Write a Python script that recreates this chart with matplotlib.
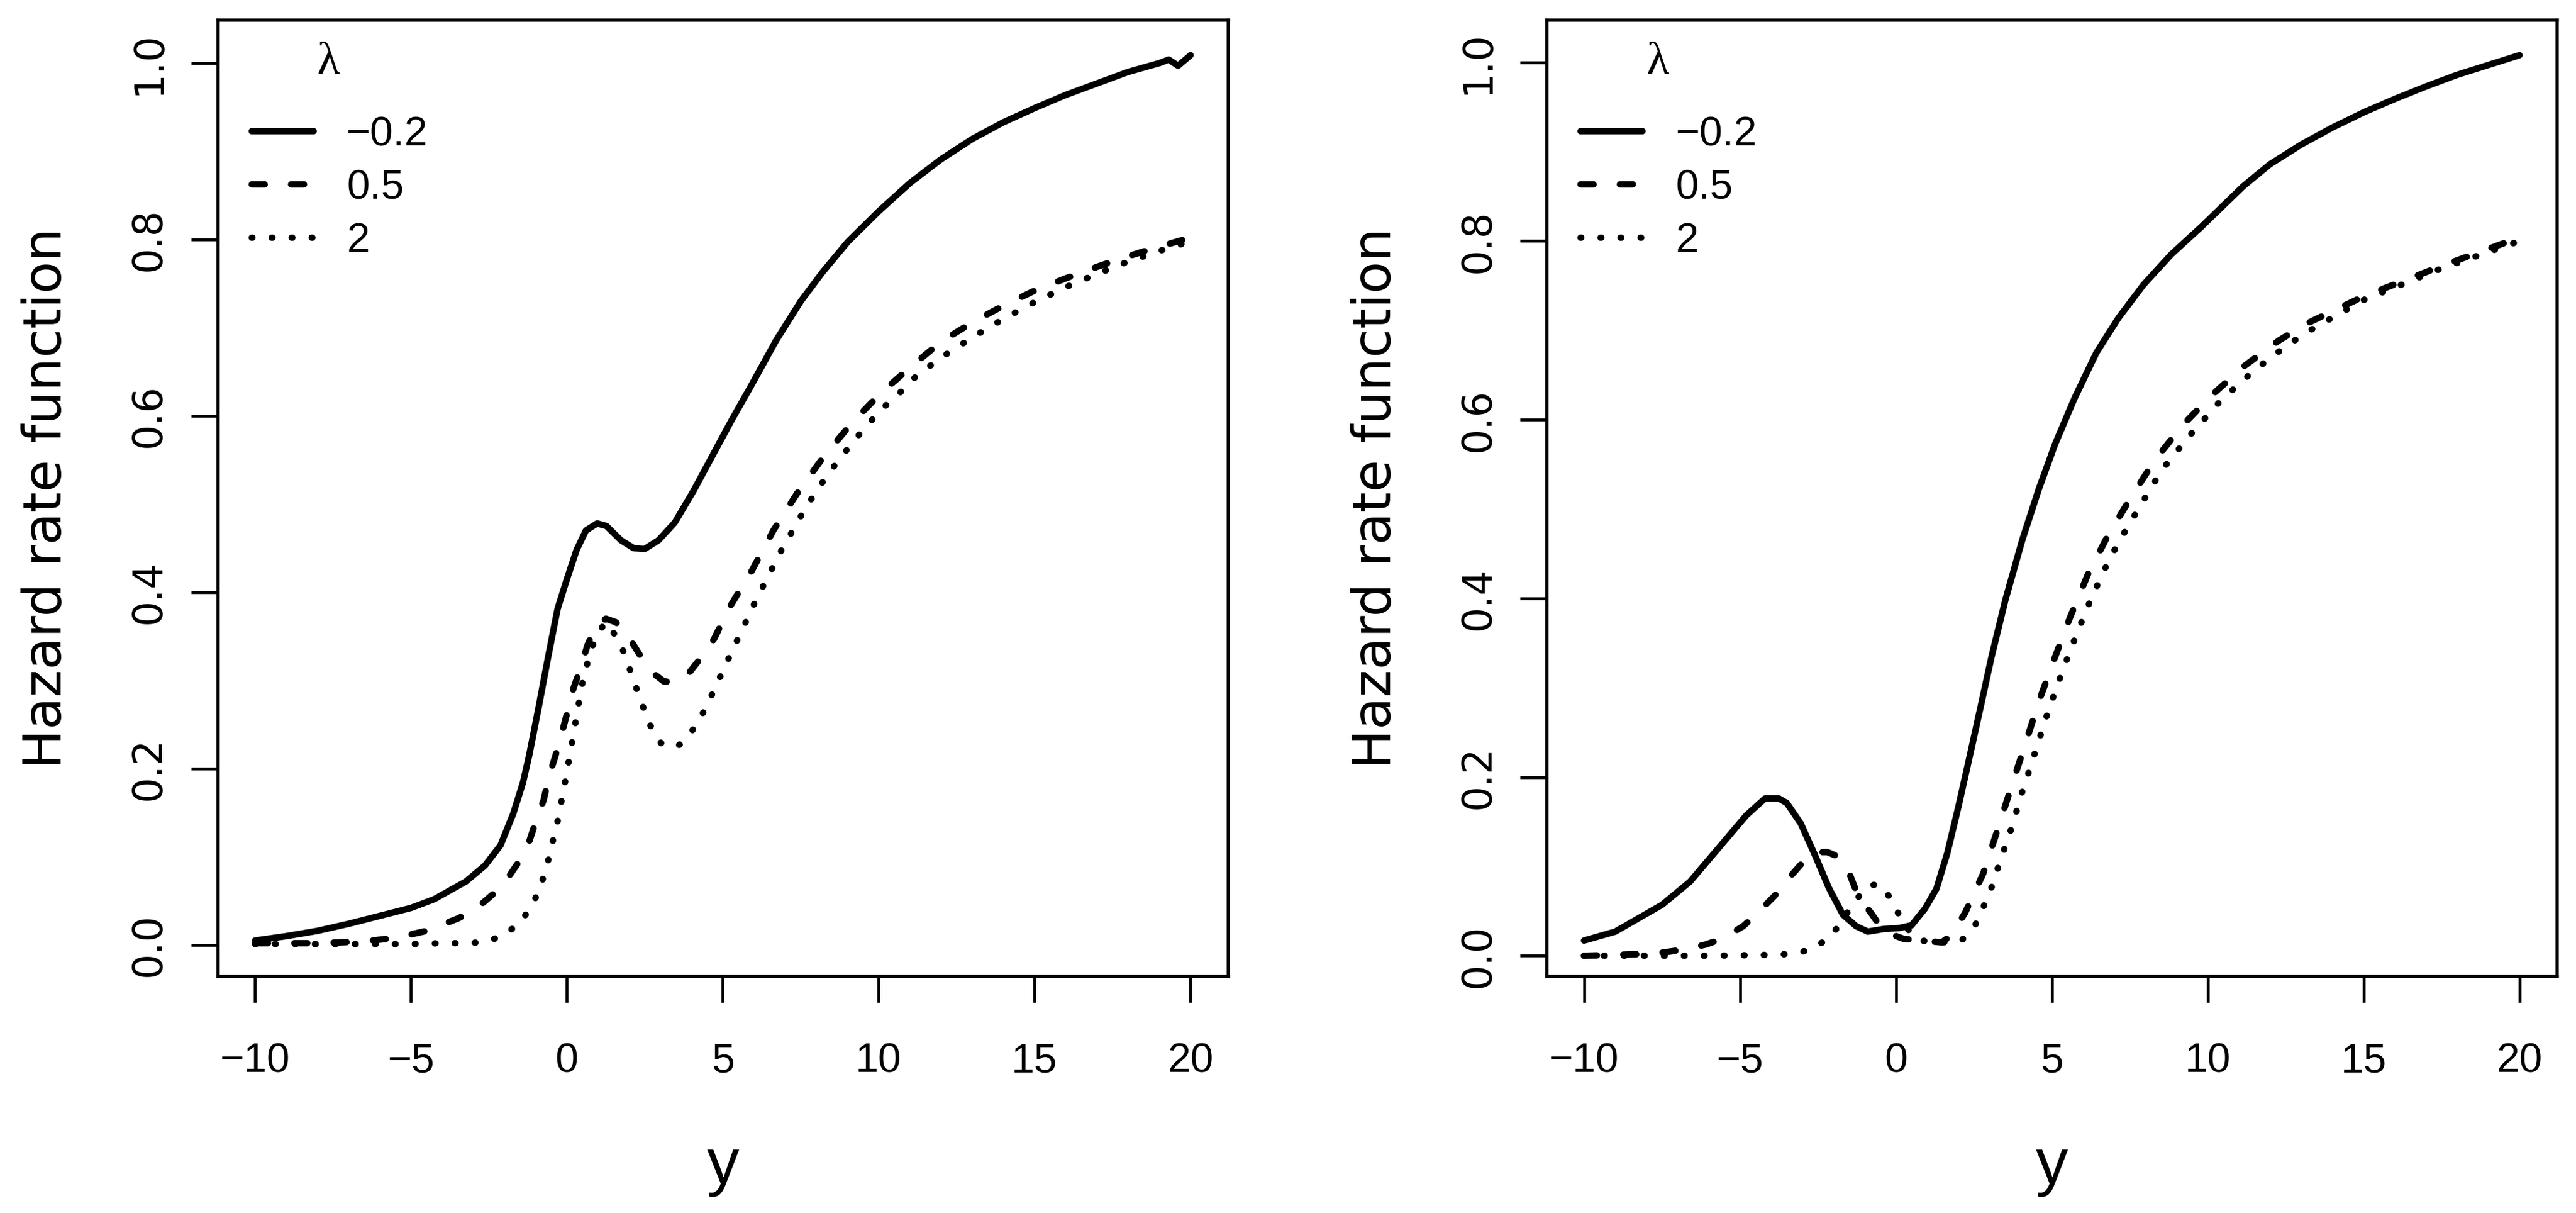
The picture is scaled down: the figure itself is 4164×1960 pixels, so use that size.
import matplotlib.pyplot as plt
from matplotlib import font_manager

# --- data (lambda = -0.2, 0.5, 2) ---
lambdas = ['\u22120.2', '0.5', '2']

# left panel
left_x_solid = [-10, -9, -8, -7, -6, -5, -4.25, -3.24, -2.63, -2.13, -1.72, -1.41, -1.21, -0.91, -0.6,
                -0.3, 0.01, 0.31, 0.61, 0.97, 1.27, 1.73, 2.14, 2.49, 2.94, 3.46, 4.06, 4.67, 5.28, 5.89,
                6.7, 7.5, 8.2, 9.0, 10, 11, 12, 13, 14, 15, 16, 17, 18, 19, 19.3, 19.6, 20]
left_y_solid = [0.005, 0.010, 0.016, 0.024, 0.033, 0.042, 0.052, 0.072, 0.090, 0.113, 0.149, 0.184, 0.215,
                0.269, 0.327, 0.381, 0.416, 0.448, 0.470, 0.478, 0.475, 0.459, 0.450, 0.449, 0.459, 0.479,
                0.515, 0.555, 0.595, 0.633, 0.685, 0.730, 0.763, 0.797, 0.832, 0.864, 0.891, 0.914, 0.933,
                0.949, 0.964, 0.977, 0.990, 1.000, 1.004, 0.997, 1.009]

left_x_dash = [-10, -8, -6.5, -5.5, -4.5, -3.5, -2.98, -2.39, -1.97, -1.51, -1.23, -0.96, -0.75, -0.56,
               -0.38, -0.15, 0.0, 0.21, 0.41, 0.66, 0.91, 1.25, 1.57, 1.93, 2.39, 2.74, 3.1, 3.35, 3.86,
               4.37, 4.72, 5.2, 5.94, 6.62, 7.38, 8.22, 9.14, 10.07, 11.11, 12, 13, 14, 15, 16, 17, 18,
               19, 20]
left_y_dash = [0.002, 0.002, 0.004, 0.008, 0.016, 0.030, 0.039, 0.057, 0.072, 0.096, 0.115, 0.144, 0.164,
               0.193, 0.213, 0.242, 0.262, 0.291, 0.311, 0.340, 0.360, 0.370, 0.366, 0.352, 0.326, 0.309,
               0.299, 0.298, 0.306, 0.329, 0.347, 0.382, 0.425, 0.470, 0.512, 0.553, 0.592, 0.626, 0.658,
               0.684, 0.706, 0.725, 0.742, 0.756, 0.769, 0.781, 0.792, 0.802]

left_x_dot = [-10, -7, -5, -4.0, -3.34, -2.68, -2.07, -1.51, -1.11, -0.83, -0.62, -0.45, -0.28, -0.15,
              -0.01, 0.11, 0.24, 0.36, 0.49, 0.66, 0.87, 1.22, 1.65, 1.91, 2.15, 2.39, 2.64, 3.02, 3.3,
              3.61, 4.06, 4.41, 4.72, 5.03, 5.33, 5.63, 5.94, 6.25, 6.58, 6.9, 7.26, 7.61, 7.99, 8.4,
              8.83, 9.26, 9.72, 10.2, 10.7, 11.2, 12, 13, 14, 15, 16, 17, 18, 19, 20]
left_y_dot = [0.001, 0.001, 0.001, 0.002, 0.002, 0.003, 0.010, 0.025, 0.045, 0.068, 0.093, 0.118, 0.143,
              0.168, 0.194, 0.219, 0.245, 0.270, 0.296, 0.320, 0.344, 0.366, 0.347, 0.324, 0.299, 0.275,
              0.251, 0.229, 0.224, 0.227, 0.245, 0.266, 0.289, 0.313, 0.336, 0.358, 0.382, 0.404, 0.427,
              0.449, 0.471, 0.493, 0.514, 0.535, 0.555, 0.574, 0.593, 0.611, 0.627, 0.645, 0.666, 0.689,
              0.710, 0.729, 0.746, 0.761, 0.775, 0.787, 0.798]

# right panel
right_x_solid = [-10, -9, -8.5, -7.5, -6.6, -5.7, -4.8, -4.2, -3.75, -3.5, -3.05, -2.6, -2.15, -1.7, -1.27,
                 -0.9, -0.38, 0.1, 0.5, 0.94, 1.3, 1.65, 2.0, 2.36, 2.72, 3.07, 3.51, 4.05, 4.58, 5.11,
                 5.73, 6.43, 7.14, 7.94, 8.83, 9.8, 11.13, 12, 13, 14, 15, 16, 17, 18, 19, 20]
right_y_solid = [0.017, 0.027, 0.037, 0.057, 0.083, 0.120, 0.157, 0.176, 0.176, 0.171, 0.148, 0.113, 0.076,
                 0.046, 0.033, 0.027, 0.030, 0.031, 0.034, 0.053, 0.075, 0.115, 0.166, 0.222, 0.279, 0.335,
                 0.398, 0.465, 0.522, 0.573, 0.624, 0.675, 0.714, 0.751, 0.785, 0.816, 0.861, 0.886, 0.908,
                 0.927, 0.944, 0.959, 0.973, 0.986, 0.997, 1.008]

right_x_dash = [-10, -9, -8, -7.38, -6.8, -6.1, -5.57, -4.9, -4.46, -3.89, -3.53, -3.0, -2.56, -2.2, -1.85,
                -1.49, -1.2, -0.8, -0.38, 0.24, 0.77, 1.47, 1.75, 2.22, 2.8, 3.28, 3.71, 4.16, 4.6, 5.1,
                5.6, 6.16, 6.81, 7.54, 8.31, 9.2, 10.15, 11.17, 12.3, 13.2, 15, 17.5, 20]
right_y_dash = [0.000, 0.001, 0.002, 0.004, 0.007, 0.0125, 0.019, 0.033, 0.047, 0.067, 0.083, 0.104, 0.116,
                0.116, 0.111, 0.092, 0.066, 0.048, 0.027, 0.019, 0.017, 0.015, 0.022, 0.048, 0.092, 0.143,
                0.190, 0.238, 0.286, 0.334, 0.380, 0.427, 0.471, 0.513, 0.555, 0.594, 0.628, 0.660, 0.689,
                0.708, 0.738, 0.772, 0.804]

right_x_dot = [-10, -6, -4, -3.4, -2.8, -2.16, -1.8, -1.36, -0.91, -0.6, -0.38, -0.03, 0.28, 0.77, 1.47,
               2.08, 2.54, 2.85, 3.12, 3.33, 3.58, 3.79, 4.0, 4.22, 4.44, 4.66, 4.88, 5.12, 5.37, 5.63,
               5.89, 6.17, 6.45, 6.77, 7.1, 7.45, 7.81, 8.19, 8.56, 9.0, 9.44, 9.9, 10.38, 10.88, 11.39,
               11.93, 12.46, 13.18, 15, 17.47, 20]
right_y_dot = [0.000, 0.000, 0.001, 0.002, 0.006, 0.019, 0.035, 0.059, 0.078, 0.080, 0.076, 0.055, 0.033,
               0.017, 0.015, 0.016, 0.034, 0.058, 0.081, 0.105, 0.129, 0.152, 0.178, 0.201, 0.225, 0.249,
               0.273, 0.297, 0.321, 0.345, 0.368, 0.392, 0.414, 0.438, 0.460, 0.481, 0.502, 0.524, 0.545,
               0.564, 0.583, 0.601, 0.620, 0.636, 0.652, 0.667, 0.681, 0.698, 0.734, 0.769, 0.800]

x_ticks = [-10, -5, 0, 5, 10, 15, 20]
y_ticks = [0.0, 0.2, 0.4, 0.6, 0.8, 1.0]

# fonts: the source is a stretched R/Helvetica plot, so narrow sans for horizontal text
names = {f.name for f in font_manager.fontManager.ttflist}
narrow = 'Liberation Sans Narrow' if 'Liberation Sans Narrow' in names else 'Liberation Sans'
wide = 'DejaVu Sans'
hsize = 17.8 if narrow == 'Liberation Sans Narrow' else 16

LW = 2.5
styles = [
    dict(linestyle='-', solid_capstyle='round', solid_joinstyle='round'),
    dict(linestyle=(0, (2.0, 4.1)), dash_capstyle='round', dash_joinstyle='round'),
    dict(linestyle=(0, (0.1, 3.0)), dash_capstyle='round', dash_joinstyle='round'),
]

fig = plt.figure(figsize=(4164 / 300, 1960 / 300), dpi=300)
ax_left = fig.add_axes([0.0845, 0.1954, 0.3922, 0.7883])
ax_right = fig.add_axes([0.6004, 0.1954, 0.3922, 0.7883])

panels = [
    (ax_left, [(left_x_solid, left_y_solid), (left_x_dash, left_y_dash), (left_x_dot, left_y_dot)]),
    (ax_right, [(right_x_solid, right_y_solid), (right_x_dash, right_y_dash), (right_x_dot, right_y_dot)]),
]

for ax, curves in panels:
    for (xs, ys), st, lab in zip(curves, styles, lambdas):
        ax.plot(xs, ys, color='black', lw=LW, label=lab, **st)

    # R style axis limits: 4% beyond the range of the first curve
    xs0, ys0 = curves[0]
    xr = max(xs0) - min(xs0)
    yr = max(ys0) - min(ys0)
    ax.set_xlim(min(xs0) - 0.04 * xr, max(xs0) + 0.04 * xr)
    ax.set_ylim(min(ys0) - 0.04 * yr, max(ys0) + 0.04 * yr)

    ax.set_xticks(x_ticks)
    ax.set_xticklabels(['\u2212' + str(-t) if t < 0 else str(t) for t in x_ticks],
                       fontsize=hsize, family=narrow)
    ax.set_yticks(y_ticks)
    ax.set_yticklabels(['%.1f' % t for t in y_ticks], rotation=90, va='center',
                       fontsize=15.5, family=wide)
    ax.tick_params(axis='x', direction='out', length=10.3, width=1.1, pad=15.4)
    ax.tick_params(axis='y', direction='out', length=10.3, width=1.1, pad=8.6)
    for sp in ax.spines.values():
        sp.set_linewidth(1.3)

    ax.set_xlabel('y', fontsize=25, family=narrow)
    ax.xaxis.set_label_coords(0.5, -0.168)
    ax.set_ylabel('Hazard rate function', fontsize=20.4, family=wide)
    ax.yaxis.set_label_coords(-0.1439, 0.5)

    ax.legend(loc='upper left', bbox_to_anchor=(0.0337, 0.8995), frameon=False,
              borderpad=0, borderaxespad=0, handlelength=1.5, handletextpad=0.8,
              labelspacing=0.36, prop={'family': narrow, 'size': hsize})
    ax.text(0.11, 0.955, '\u03bb', transform=ax.transAxes, ha='center', va='center',
            fontsize=18, family='Liberation Serif')

fig.savefig('out.png', dpi=300)
